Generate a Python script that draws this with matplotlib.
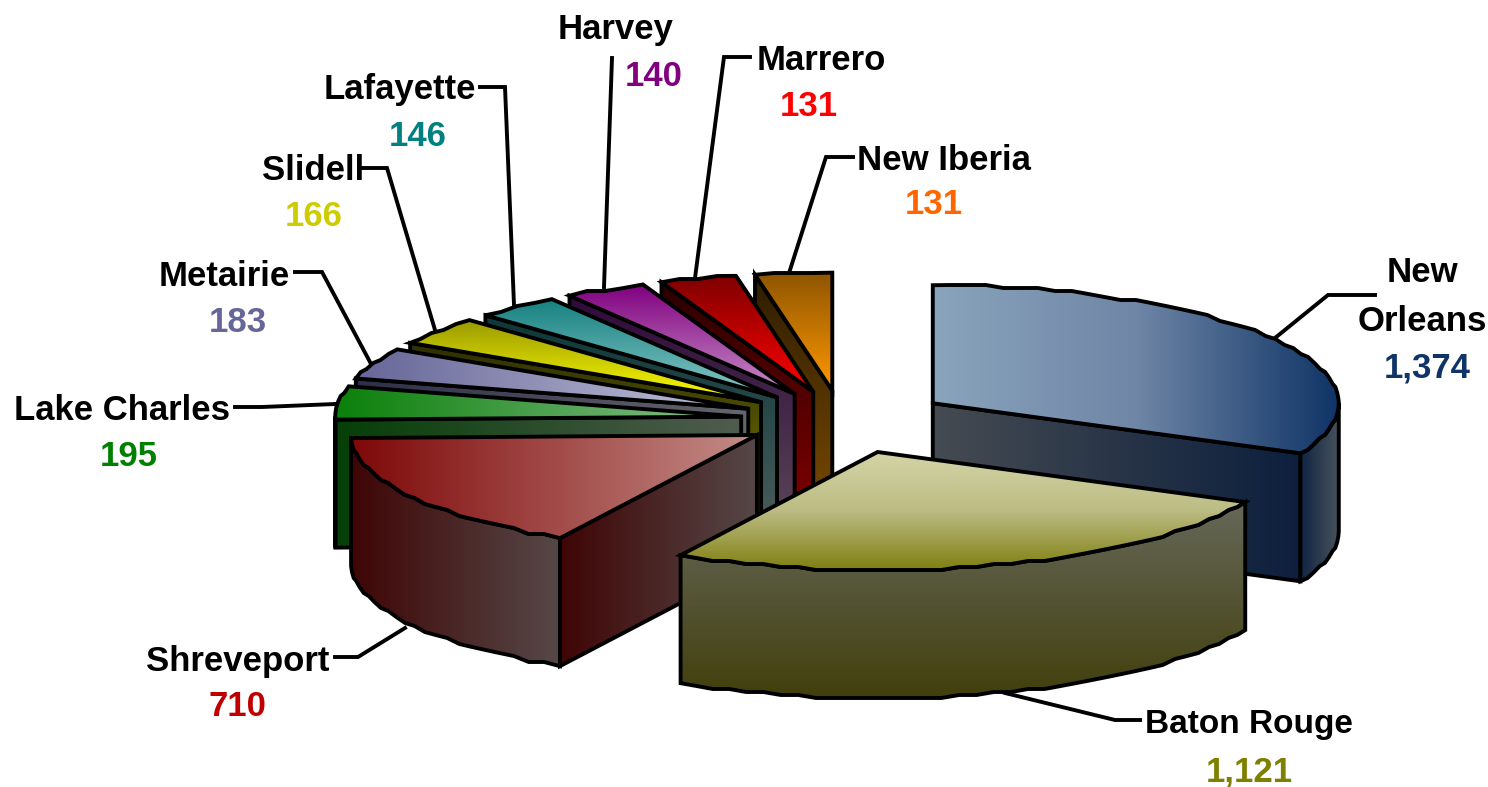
import matplotlib
matplotlib.use("Agg")
import matplotlib.pyplot as plt
from matplotlib.colors import LinearSegmentedColormap
from matplotlib.patches import Polygon
import numpy as np

cities = ["New Orleans", "Baton Rouge", "Shreveport", "Lake Charles", "Metairie",
          "Slidell", "Lafayette", "Harvey", "Marrero", "New Iberia"]
values = [1374, 1121, 710, 195, 183, 166, 146, 140, 131, 131]
explode = [0.265, 0.285, 0.245, 0.25, 0.25, 0.25, 0.25, 0.25, 0.25, 0.25]
value_colors = ["#0f3466", "#808000", "#c00000", "#008000", "#666699",
                "#cccc00", "#008080", "#800080", "#ff0000", "#ff6600"]

# top face, cut face, rim: (colour stops, direction)
top_styles = [(["#8aa4bc", "#6f86a6", "#0f3466"], "h"), (["#d4d5a8", "#bcbc84", "#7f7f10"], "v"),
              (["#7e0808", "#c48d88"], "h"), (["#0a800a", "#8cc090"], "h"), (["#666699", "#c4c4da"], "h"),
              (["#999900", "#ffff00"], "v"), (["#158080", "#88c8c8"], "v"), (["#800080", "#c890c8"], "v"),
              (["#800000", "#ff0000"], "v"), (["#8f5500", "#ff9900"], "v")]
side_styles = [(["#454b52", "#0c1f3d"], "h"), (["#66685a", "#423f0c"], "v"), (["#3f0505", "#564848"], "h"),
               (["#063f08", "#505c50"], "h"), (["#2e2e48", "#666670"], "h"), (["#2e2e00", "#808000"], "v"),
               (["#0c3838", "#4a5c5c"], "v"), (["#2f0a3a", "#5a4558"], "v"), (["#2a0000", "#800000"], "v"),
               (["#2e1d00", "#7a4a00"], "v")]
rim_styles = list(side_styles)
rim_styles[0] = (["#0f2443", "#48525c"], "h")

# label text position and leader line, pixels
label_xy = [(1422, 297), (1249, 725), (238, 661), (122, 410), (224, 276),
            (313, 171), (400, 90), (616, 30), (821, 60), (944, 160)]
value_xy = [(1427, 368), (1249, 772), (237, 707), (129, 457), (238, 322),
            (314, 217), (418, 137), (654, 77), (809, 107), (934, 205)]
label_sizes = [25, 24, 25, 25, 25, 25, 25, 25, 25, 25]
leaders = [[(1275, 338), (1328, 295), (1375, 295)],
           [(1005, 693), (1115, 720), (1140, 720)],
           [(405, 628), (358, 657), (335, 657)],
           [(335, 404), (262, 407), (235, 407)],
           [(370, 362), (322, 272), (295, 272)],
           [(435, 330), (387, 168), (362, 168)],
           [(514, 305), (505, 87), (480, 87)],
           [(604, 287), (612, 58)],
           [(695, 278), (724, 57), (750, 57)],
           [(790, 270), (826, 157), (853, 157)]]

cx, cy = 842, 420
rx, ry = 406, 118
depth = 128
lw = 2.8


def gradient_poly(ax, pts, style, z):
    stops, direction = style
    pts = np.array(pts)
    cmap = LinearSegmentedColormap.from_list("g", stops)
    ramp = np.linspace(0, 1, 256)
    ramp = ramp.reshape(1, -1) if direction == "h" else ramp.reshape(-1, 1)
    x0, y0 = pts.min(axis=0)
    x1, y1 = pts.max(axis=0)
    im = ax.imshow(ramp, cmap=cmap, extent=(x0, x1, y1, y0), aspect="auto",
                   interpolation="bilinear", zorder=z, vmin=0, vmax=1)
    outline = Polygon(pts, closed=True, fc="none", ec="black", lw=lw, joinstyle="miter", zorder=z + 0.5)
    ax.add_patch(outline)
    im.set_clip_path(outline)


def arc(apex, a0, a1):
    # rough polyline round the ellipse, the original has a bumpy edge
    n = max(2, int(abs(a1 - a0) / 2.5) + 1)
    t = np.radians(np.linspace(a0, a1, n))
    x = apex[0] + rx * np.sin(t)
    y = apex[1] - ry * np.cos(t)
    y[1:-1] = np.round(y[1:-1] / 3) * 3
    return np.column_stack([x, y])


fig = plt.figure(figsize=(14.88, 7.87), dpi=100)
ax = fig.add_axes([0, 0, 1, 1])

total = sum(values)
ends = np.cumsum(values) / total * 360
starts = ends - np.array(values) / total * 360

# painter's order, back to front
order = [9, 8, 7, 6, 5, 4, 3, 2, 0, 1]
z = 1
for i in order:
    a0, a1 = starts[i], ends[i]
    mid = np.radians((a0 + a1) / 2)
    apex = np.array([cx + explode[i] * rx * np.sin(mid), cy - explode[i] * ry * np.cos(mid)])
    down = np.array([0, depth])

    # cut faces that look towards the viewer
    for ang, sign in ((a0, -1), (a1, 1)):
        normal_y = np.cos(np.radians(ang + sign * 90))
        if normal_y < -1e-6:
            t = np.radians(ang)
            rim_pt = apex + [rx * np.sin(t), -ry * np.cos(t)]
            gradient_poly(ax, [apex, rim_pt, rim_pt + down, apex + down], side_styles[i], z)
            z += 1

    # outer wall, only the part on the near half of the ellipse
    r0, r1 = max(a0, 90), min(a1, 270)
    if r1 > r0:
        edge = arc(apex, r0, r1)
        gradient_poly(ax, np.vstack([edge, (edge + down)[::-1]]), rim_styles[i], z)
        z += 1

    # top face
    gradient_poly(ax, np.vstack([[apex], arc(apex, a0, a1)]), top_styles[i], z)
    z += 1

for i, city in enumerate(cities):
    xs, ys = zip(*leaders[i])
    ax.plot(xs, ys, color="black", lw=lw, solid_joinstyle="miter", zorder=z)
    name = "New\nOrleans" if city == "New Orleans" else city
    ax.text(label_xy[i][0], label_xy[i][1], name, ha="center", va="center", fontsize=label_sizes[i],
            fontweight="bold", color="black", family="Liberation Sans", linespacing=1.58, zorder=z)
    ax.text(value_xy[i][0], value_xy[i][1], f"{values[i]:,}", ha="center", va="center", fontsize=25,
            fontweight="bold", color=value_colors[i], family="Liberation Sans", zorder=z)

ax.set_xlim(0, 1488)
ax.set_ylim(787, 0)
ax.axis("off")

fig.savefig("out.png", dpi=100, facecolor="white")
